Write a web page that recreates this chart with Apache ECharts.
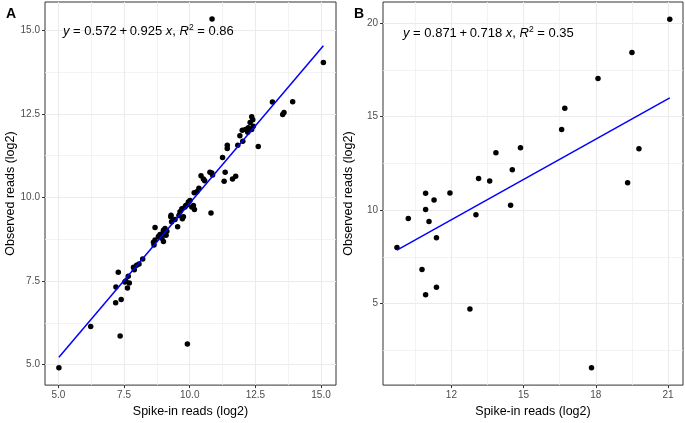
<!DOCTYPE html>
<html><head><meta charset="utf-8">
<script src="https://cdn.jsdelivr.net/npm/echarts@6/dist/echarts.min.js"></script>
<style>html,body{margin:0;padding:0;background:#fff}#c{width:685px;height:423px}</style>
</head><body><div id="c"></div>
<script>
// Panel A
const spikeA = [5.02,6.23,7.19,7.18,7.39,7.35,7.53,7.63,7.70,7.57,7.66,7.28,7.86,7.89,8.07,7.98,8.21,8.64,8.62,8.68,9.00,8.94,8.81,9.10,8.87,8.97,9.13,9.00,9.06,8.68,9.54,9.31,9.44,9.28,9.29,9.59,9.76,9.72,9.70,9.82,9.91,9.95,10.01,10.14,10.18,10.17,10.27,10.35,10.43,10.52,10.57,10.77,10.84,10.87,11.35,11.31,11.63,11.75,10.81,11.25,11.43,11.43,11.83,12.02,12.61,11.91,12.00,12.12,12.21,12.23,12.36,12.30,12.42,12.40,12.36,13.15,13.92,13.54,13.59,15.09,10.85,9.91,10.08,9.63,9.85];
const observedA = [4.91,6.14,7.32,6.85,6.95,5.86,7.47,7.29,7.44,7.50,7.64,7.76,7.91,7.84,8.01,7.97,8.16,8.58,8.66,8.73,8.68,8.78,8.83,8.87,8.89,8.92,8.99,9.02,9.07,9.10,9.12,9.27,9.34,9.42,9.47,9.46,9.42,9.36,9.66,9.71,9.78,9.86,9.91,9.76,9.64,10.14,10.17,10.27,10.65,10.55,10.50,10.75,10.73,10.67,10.75,10.48,10.55,10.63,9.53,11.19,11.56,11.46,11.56,11.68,11.52,11.84,12.01,12.03,11.95,12.08,12.03,12.24,12.13,12.32,12.41,12.85,12.86,12.48,12.54,14.03,15.33,5.62,9.71,9.57,9.76];
const fitAx = [5.02, 15.09];
const fitAy = [5.22, 14.53];
// Panel B
const spikeB = [9.74,10.21,10.93,11.28,10.93,11.07,11.38,11.94,10.78,11.38,10.93,13.02,13.13,13.59,13.85,14.53,14.87,14.46,16.58,16.71,19.32,19.79,18.09,19.50,21.07,12.77,17.82];
const observedB = [8.01,9.55,10.91,10.55,10.04,9.40,8.53,10.92,6.83,5.88,5.48,9.76,11.70,11.56,13.07,12.16,13.34,10.27,14.31,15.45,11.47,13.29,17.04,18.43,20.21,4.72,1.58];
const fitBx = [9.74, 21.07];
const fitBy = [7.87, 16.0];
// ticks
const ticksAx = [5, 7.5, 10, 12.5, 15];
const ticksAy = [5, 7.5, 10, 12.5, 15];
const minorAx = [6.25, 8.75, 11.25, 13.75];
const minorAy = [6.25, 8.75, 11.25, 13.75];
const ticksBx = [12, 15, 18, 21];
const minorBx = [10.5, 13.5, 16.5, 19.5];
const ticksBy = [5, 10, 15, 20];
const minorBy = [2.5, 7.5, 12.5, 17.5];

const FONT = 'Liberation Sans, Arial, sans-serif';
const pairs = (xs, ys) => xs.map((x, i) => [x, ys[i]]);

function majorAxis(gridIndex, min, max, ticks, fmt, name, isY) {
  return {
    type: 'value', gridIndex, min, max,
    name, nameLocation: 'middle', nameGap: isY ? 28 : 19,
    nameTextStyle: { color: '#000', fontSize: 12.5, fontFamily: FONT },
    axisLine: { show: false },
    axisTick: { show: true, customValues: ticks, length: 3, lineStyle: { color: '#333', width: 1 } },
    axisLabel: { customValues: ticks, formatter: fmt, color: '#4D4D4D', fontSize: 10, fontFamily: FONT, margin: 5 },
    splitLine: { show: true, lineStyle: { color: '#EBEBEB', width: 1.1 } }
  };
}
function minorAxis(gridIndex, min, max, ticks) {
  return {
    type: 'value', gridIndex, min, max,
    axisLine: { show: false },
    axisTick: { show: false, customValues: ticks },
    axisLabel: { show: false, customValues: ticks },
    splitLine: { show: true, lineStyle: { color: '#F0F0F0', width: 0.8 } }
  };
}
const f1 = v => Number(v).toFixed(1);
const f0 = v => String(Math.round(v));

const eqRich = {
  n: { fontSize: 13, fontFamily: FONT, color: '#000', fontWeight: 'normal', lineHeight: 16 },
  i: { fontSize: 13, fontFamily: FONT, color: '#000', fontWeight: 'normal', fontStyle: 'italic', lineHeight: 16 },
  s: { fontSize: 8.5, fontFamily: FONT, color: '#000', fontWeight: 'normal', verticalAlign: 'top', lineHeight: 9 }
};

const chart = echarts.init(document.getElementById('c'), null, { renderer: 'canvas' });
chart.setOption({
  animation: false,
  backgroundColor: '#fff',
  title: [
    { text: 'A', left: 1, top: 2, textStyle: { fontSize: 14, fontWeight: 'bold', fontFamily: FONT, color: '#000' } },
    { text: 'B', left: 349, top: 2, textStyle: { fontSize: 14, fontWeight: 'bold', fontFamily: FONT, color: '#000' } },
    { text: '{i|y}{n| = 0.572\u2009+\u20090.925 }{i|x}{n|, }{i|R}{s|2}{n| = 0.86}', left: 58, top: 18, textStyle: { rich: eqRich, fontWeight: 'normal' } },
    { text: '{i|y}{n| = 0.871\u2009+\u20090.718 }{i|x}{n|, }{i|R}{s|2}{n| = 0.35}', left: 398, top: 20, textStyle: { rich: eqRich, fontWeight: 'normal' } }
  ],
  grid: [
    { left: 45, top: 2, width: 291, height: 386, show: true, borderColor: '#333', borderWidth: 1, backgroundColor: 'transparent' },
    { left: 383, top: 2, width: 300, height: 386, show: true, borderColor: '#333', borderWidth: 1, backgroundColor: 'transparent' }
  ],
  xAxis: [
    majorAxis(0, 4.49, 15.57, ticksAx, f1, 'Spike-in reads (log2)', false),
    minorAxis(0, 4.49, 15.57, minorAx),
    majorAxis(1, 9.16, 21.62, ticksBx, f0, 'Spike-in reads (log2)', false),
    minorAxis(1, 9.16, 21.62, minorBx)
  ],
  yAxis: [
    majorAxis(0, 4.39, 15.84, ticksAy, f1, 'Observed reads (log2)', true),
    minorAxis(0, 4.39, 15.84, minorAy),
    majorAxis(1, 0.65, 21.13, ticksBy, f0, 'Observed reads (log2)', true),
    minorAxis(1, 0.65, 21.13, minorBy)
  ],
  series: [
    { type: 'scatter', xAxisIndex: 0, yAxisIndex: 0, data: pairs(spikeA, observedA), symbolSize: 5.5, itemStyle: { color: '#000', opacity: 1 }, z: 3 },
    { type: 'line', xAxisIndex: 0, yAxisIndex: 0, data: pairs(fitAx, fitAy), showSymbol: false, lineStyle: { color: '#0000FF', width: 1.5 }, z: 4 },
    { type: 'scatter', xAxisIndex: 2, yAxisIndex: 2, data: pairs(spikeB, observedB), symbolSize: 5.5, itemStyle: { color: '#000', opacity: 1 }, z: 3 },
    { type: 'line', xAxisIndex: 2, yAxisIndex: 2, data: pairs(fitBx, fitBy), showSymbol: false, lineStyle: { color: '#0000FF', width: 1.5 }, z: 4 }
  ]
});
</script>
</body></html>
